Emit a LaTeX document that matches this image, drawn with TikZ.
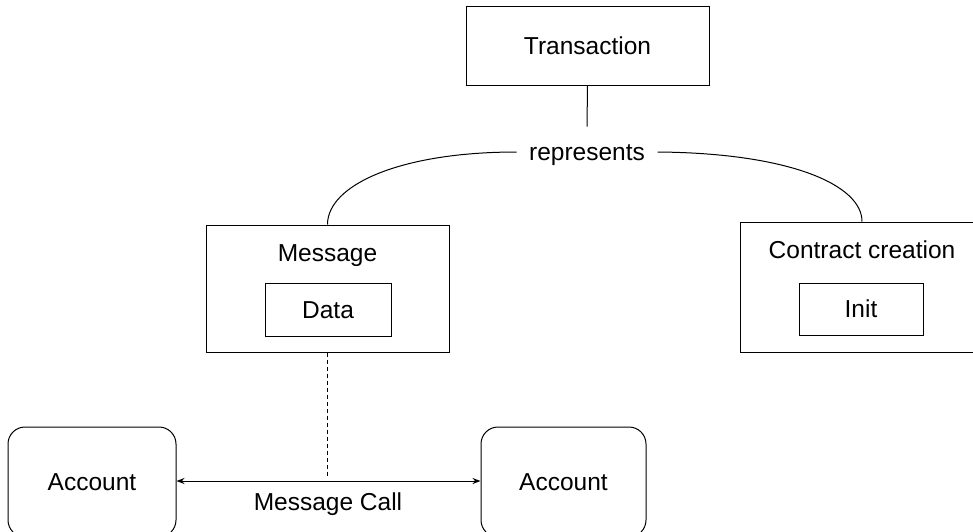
\documentclass[tikz,border=0pt]{standalone}
\usepackage{fontspec}
\setmainfont{Liberation Sans}
\usetikzlibrary{arrows.meta}
\begin{document}
\begin{tikzpicture}[x=1pt, y=-1pt,
  line width=1pt,
  every node/.style={font=\fontsize{24.5}{28}\selectfont, inner sep=0pt, text height=17.5pt, text depth=0pt},
  box/.style={draw, rectangle},
  roundbox/.style={draw, rectangle, rounded corners=17pt},
  label text/.style={},
  tip/.style={Stealth[length=8pt, width=6pt]}
]
\useasboundingbox (0,0) rectangle (973,531);
\clip (0,0) rectangle (973,531);

% top level transaction
\node[box, minimum width=243pt, minimum height=79pt] (tx) at (587.5,45.5) {Transaction};
\node[minimum width=140pt, minimum height=50pt] (rep) at (587,152) {represents};

% message container
\node[box, minimum width=243pt, minimum height=127pt] (msg) at (327.5,288.5) {};
\node (msglabel) at (327.5,253) {Message};
\node[box, minimum width=126pt, minimum height=53pt] (data) at (328,309.5) {Data};

% contract creation container
\node[box, minimum width=244pt, minimum height=130pt] (ctr) at (862,287) {};
\node (ctrlabel) at (862,250) {Contract creation};
\node[box, minimum width=124pt, minimum height=52pt] (init) at (861,309) {Init};

% accounts
\node[roundbox, minimum width=168pt, minimum height=110pt] (accL) at (92,482) {Account};
\node[roundbox, minimum width=165pt, minimum height=110pt] (accR) at (563.5,482) {Account};
\node (mcall) at (328,502) {Message Call};
\coordinate (mcjoin) at (327.5,478);

% connectors
\draw (tx.south) -- (rep.north);
\draw (rep.west) .. controls (400,152) and (327.5,185) .. (msg.north);
\draw (rep.east) .. controls (790,153) and (862,185) .. (ctr.north);
\draw[dash pattern=on 4pt off 3pt] (msg.south) -- (mcjoin);
\draw[{Stealth[length=8pt, width=6pt]}-{Stealth[length=8pt, width=6pt]}] (accL.east |- 0,481) -- (accR.west |- 0,481);
\end{tikzpicture}
\end{document}
